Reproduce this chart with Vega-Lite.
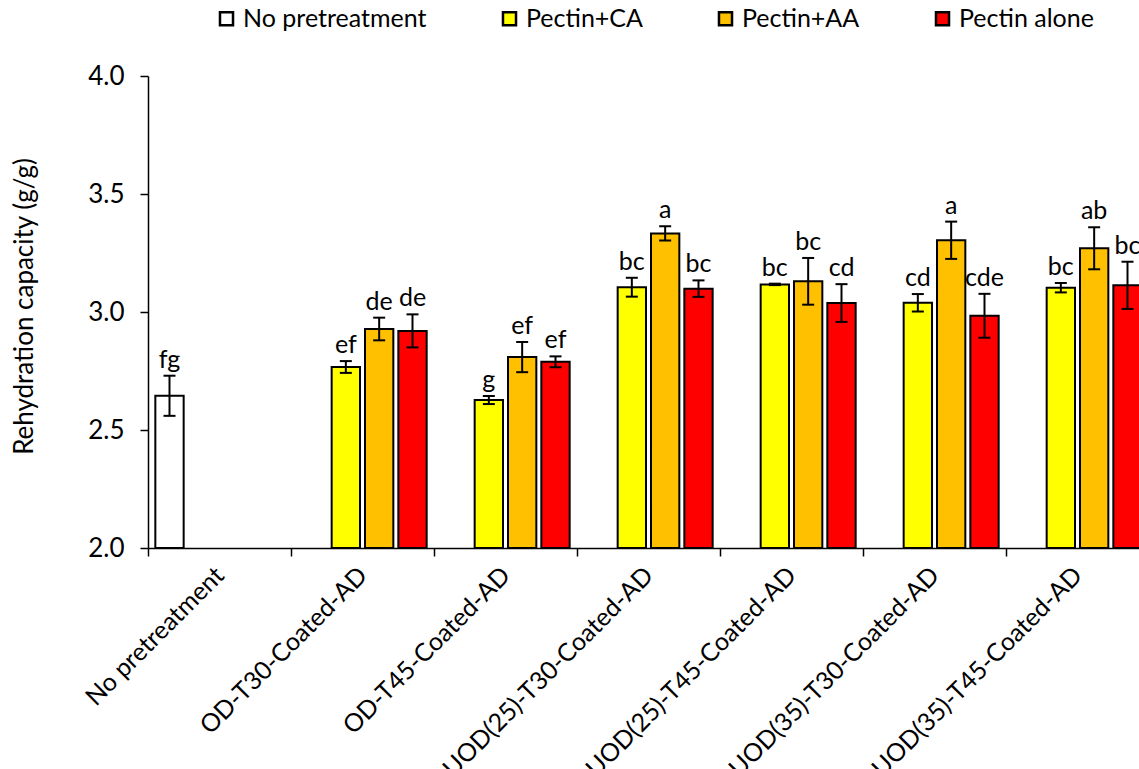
{
  "$schema": "https://vega.github.io/schema/vega-lite/v6.json",
  "width": 1001,
  "height": 472,
  "autosize": {"type": "none"},
  "padding": {"left": 148, "top": 76, "right": 0, "bottom": 221},
  "background": "white",
  "config": {
    "view": {"stroke": null},
    "font": "Lato",
    "axis": {"labelColor": "black", "titleColor": "black", "domainColor": "black", "tickColor": "black", "grid": false, "labelFont": "Lato", "titleFont": "Lato"},
    "legend": {"labelFont": "Lato"}
  },
  "data": {
    "values": [
      {"group": "No pretreatment", "series": "No pretreatment", "value": 2.645, "lo": 2.56, "hi": 2.73, "letter": "fg"},
      {"group": "OD-T30-Coated-AD", "series": "Pectin+CA", "value": 2.767, "lo": 2.742, "hi": 2.792, "letter": "ef"},
      {"group": "OD-T30-Coated-AD", "series": "Pectin+AA", "value": 2.928, "lo": 2.88, "hi": 2.976, "letter": "de"},
      {"group": "OD-T30-Coated-AD", "series": "Pectin alone", "value": 2.92, "lo": 2.85, "hi": 2.99, "letter": "de"},
      {"group": "OD-T45-Coated-AD", "series": "Pectin+CA", "value": 2.627, "lo": 2.61, "hi": 2.644, "letter": "g"},
      {"group": "OD-T45-Coated-AD", "series": "Pectin+AA", "value": 2.809, "lo": 2.745, "hi": 2.873, "letter": "ef"},
      {"group": "OD-T45-Coated-AD", "series": "Pectin alone", "value": 2.789, "lo": 2.766, "hi": 2.812, "letter": "ef"},
      {"group": "UOD(25)-T30-Coated-AD", "series": "Pectin+CA", "value": 3.105, "lo": 3.065, "hi": 3.145, "letter": "bc"},
      {"group": "UOD(25)-T30-Coated-AD", "series": "Pectin+AA", "value": 3.333, "lo": 3.303, "hi": 3.363, "letter": "a"},
      {"group": "UOD(25)-T30-Coated-AD", "series": "Pectin alone", "value": 3.099, "lo": 3.064, "hi": 3.134, "letter": "bc"},
      {"group": "UOD(25)-T45-Coated-AD", "series": "Pectin+CA", "value": 3.117, "lo": 3.114, "hi": 3.12, "letter": "bc"},
      {"group": "UOD(25)-T45-Coated-AD", "series": "Pectin+AA", "value": 3.13, "lo": 3.031, "hi": 3.229, "letter": "bc"},
      {"group": "UOD(25)-T45-Coated-AD", "series": "Pectin alone", "value": 3.038, "lo": 2.958, "hi": 3.118, "letter": "cd"},
      {"group": "UOD(35)-T30-Coated-AD", "series": "Pectin+CA", "value": 3.039, "lo": 3.002, "hi": 3.076, "letter": "cd"},
      {"group": "UOD(35)-T30-Coated-AD", "series": "Pectin+AA", "value": 3.304, "lo": 3.225, "hi": 3.383, "letter": "a"},
      {"group": "UOD(35)-T30-Coated-AD", "series": "Pectin alone", "value": 2.984, "lo": 2.891, "hi": 3.077, "letter": "cde"},
      {"group": "UOD(35)-T45-Coated-AD", "series": "Pectin+CA", "value": 3.103, "lo": 3.083, "hi": 3.123, "letter": "bc"},
      {"group": "UOD(35)-T45-Coated-AD", "series": "Pectin+AA", "value": 3.27, "lo": 3.181, "hi": 3.359, "letter": "ab"},
      {"group": "UOD(35)-T45-Coated-AD", "series": "Pectin alone", "value": 3.113, "lo": 3.013, "hi": 3.213, "letter": "bc"}
    ]
  },
  "encoding": {
    "x": {
      "field": "group",
      "type": "nominal",
      "scale": {
        "domain": ["No pretreatment", "OD-T30-Coated-AD", "OD-T45-Coated-AD", "UOD(25)-T30-Coated-AD", "UOD(25)-T45-Coated-AD", "UOD(35)-T30-Coated-AD", "UOD(35)-T45-Coated-AD"],
        "paddingInner": 0,
        "paddingOuter": 0
      },
      "axis": {
        "title": null,
        "tickBand": "extent",
        "labelAngle": -45,
        "labelAlign": "right",
        "labelBaseline": "middle",
        "labelFontSize": 25,
        "labelPadding": 15,
        "labelLimit": 0,
        "labelOverlap": false,
        "tickSize": 8,
        "tickWidth": 1.5,
        "domainWidth": 1.5
      }
    },
    "xOffset": {
      "field": "series",
      "type": "nominal",
      "scale": {
        "domain": ["No pretreatment", "Pectin+CA", "Pectin+AA", "Pectin alone"],
        "paddingInner": 0.15,
        "paddingOuter": 0.22
      }
    }
  },
  "layer": [
    {
      "mark": {"type": "bar", "stroke": "black", "strokeWidth": 2},
      "encoding": {
        "y": {
          "field": "value",
          "type": "quantitative",
          "scale": {"domain": [2, 4], "zero": false, "nice": false},
          "axis": {
            "title": "Rehydration capacity (g/g)",
            "values": [2, 2.5, 3, 3.5, 4],
            "format": ".1f",
            "labelFontSize": 26,
            "labelPadding": 16,
            "tickSize": 8,
            "tickWidth": 1.5,
            "domainWidth": 1.5,
            "titleFontSize": 26,
            "titleFontWeight": "normal",
            "titleAngle": -90,
            "titleX": -111,
            "titleY": 230,
            "titleAlign": "center",
            "titleBaseline": "bottom"
          }
        },
        "y2": {"datum": 2},
        "color": {
          "field": "series",
          "type": "nominal",
          "scale": {
            "domain": ["No pretreatment", "Pectin+CA", "Pectin+AA", "Pectin alone"],
            "range": ["#FFFFFF", "#FFFF00", "#FFC000", "#FF0000"]
          },
          "legend": {
            "title": null,
            "orient": "none",
            "direction": "horizontal",
            "legendX": 66,
            "legendY": -70,
            "symbolType": "square",
            "symbolSize": 170,
            "symbolStrokeColor": "black",
            "symbolStrokeWidth": 2.5,
            "symbolOpacity": 1,
            "labelFontSize": 25,
            "labelLimit": 0,
            "labelColor": "black",
            "labelOffset": 4,
            "columnPadding": 70,
            "padding": 0
          }
        }
      }
    },
    {
      "mark": {"type": "rule", "color": "black", "strokeWidth": 2},
      "encoding": {
        "y": {"field": "lo", "type": "quantitative"},
        "y2": {"field": "hi"}
      }
    },
    {
      "mark": {"type": "tick", "color": "black", "size": 12, "thickness": 2, "opacity": 1},
      "encoding": {"y": {"field": "lo", "type": "quantitative"}}
    },
    {
      "mark": {"type": "tick", "color": "black", "size": 12, "thickness": 2, "opacity": 1},
      "encoding": {"y": {"field": "hi", "type": "quantitative"}}
    },
    {
      "mark": {"type": "text", "dy": -8, "baseline": "alphabetic", "fontSize": 25, "color": "black", "font": "Lato"},
      "encoding": {
        "y": {"field": "hi", "type": "quantitative"},
        "text": {"field": "letter"}
      }
    }
  ]
}
